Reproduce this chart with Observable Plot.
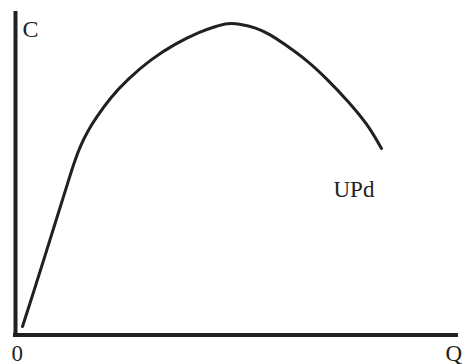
<!DOCTYPE html>
<html>
<head>
<meta charset="utf-8">
<script src="https://cdn.jsdelivr.net/npm/d3@7"></script>
<script src="https://cdn.jsdelivr.net/npm/@observablehq/plot@0.6"></script>
<style>
  html, body { margin: 0; padding: 0; background: #fff; }
  #chart svg { display: block; }
</style>
</head>
<body>
<div id="chart"></div>
<script>
// Quantity (Q) and value (C)
const q = [1.58, 4.20, 6.68, 9.64, 11.96, 13.32, 14.67, 16.25, 18.06, 21.44, 25.28, 30.47, 36.12, 41.76, 45.15, 47.86, 50.79, 54.18, 57.56, 60.50, 65.91, 70.43, 74.94, 79.46, 82.62];
const c = [2.63, 13.76, 24.57, 37.56, 47.76, 53.63, 58.58, 62.91, 66.92, 73.42, 78.98, 85.16, 90.11, 93.82, 95.36, 96.45, 96.14, 95.05, 92.89, 90.11, 84.85, 78.98, 72.50, 65.20, 57.65];
const curveLabel = "UPd";
const yLabel = "C";
const xLabel = "Q";
const originLabel = "0";

const data = q.map((v, i) => ({q: v, c: c[i]}));
const last = data[data.length - 1];
const ink = "#231f20";
const font = "'Liberation Serif', 'Times New Roman', serif";

const chart = Plot.plot({
  width: 463,
  height: 364,
  marginLeft: 15,
  marginRight: 5,
  marginTop: 11,
  marginBottom: 29.5,
  x: {domain: [0, 100], axis: null},
  y: {domain: [0, 100], axis: null},
  style: {fontFamily: font, background: "#fff"},
  marks: [
    Plot.ruleX([0], {stroke: ink, strokeWidth: 4, insetBottom: -2}),
    Plot.ruleY([0], {stroke: ink, strokeWidth: 4, insetLeft: -2}),
    Plot.line(data, {x: "q", y: "c", curve: "basis", stroke: ink, strokeWidth: 3}),
    Plot.text([last], {x: "q", y: "c", text: () => curveLabel, textAnchor: "start", lineAnchor: "bottom", dx: -48, dy: 48, fontSize: 23, fill: ink}),
    Plot.text([yLabel], {frameAnchor: "top-left", text: d => d, textAnchor: "start", lineAnchor: "bottom", dx: 7, dy: 25, fontSize: 24, fill: ink}),
    Plot.text([originLabel], {frameAnchor: "bottom-left", text: d => d, textAnchor: "middle", lineAnchor: "bottom", dx: 1.7, dy: 25.5, fontSize: 23, fill: ink}),
    Plot.text([xLabel], {frameAnchor: "bottom-right", text: d => d, textAnchor: "middle", lineAnchor: "bottom", dx: -4.6, dy: 25.5, fontSize: 23, fill: ink})
  ]
});
document.getElementById("chart").appendChild(chart);
</script>
</body>
</html>
